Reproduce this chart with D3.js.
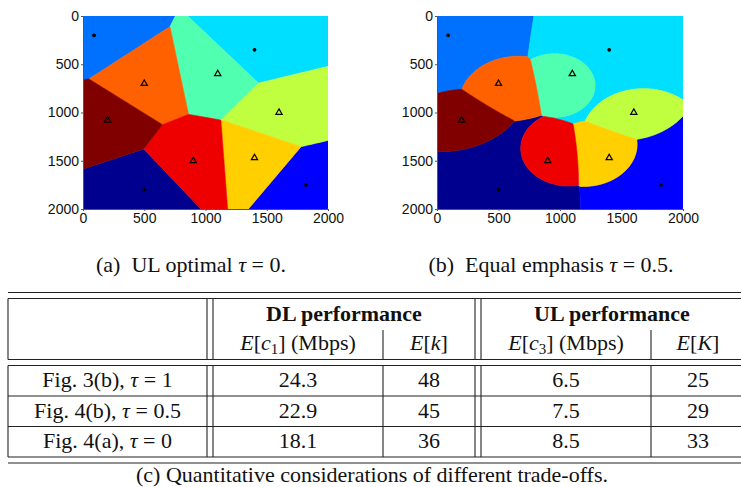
<!DOCTYPE html>
<html><head><meta charset="utf-8">
<script src="https://cdn.jsdelivr.net/npm/d3@7"></script>
<style>body{margin:0;background:#fff}svg{display:block}</style>
</head><body>
<svg id="c" width="741" height="487"></svg>
<script>
// ---------------- data ----------------
// base stations (x, y in metres): 4 macro (dots) then 6 small cells (triangles)
const bsX = [500, 1820, 90, 1400, 1100, 1600, 1400, 500, 900, 200];
const bsY = [1800, 1750, 200, 350, 600, 1000, 1470, 700, 1500, 1080];
const bsKind = ["macro", "macro", "macro", "macro", "small", "small", "small", "small", "small", "small"];
// association weights: (a) UL optimal tau = 0, (b) equal emphasis tau = 0.5
const weightUL = [1, 1, 1, 1, 1, 1, 1, 1, 1, 1];
const weightEq = [0.97, 0.97, 1.03, 1, 0.57, 0.53, 0.56, 0.55, 0.53, 0.58];
const axisTicks = [0, 500, 1000, 1500, 2000];
const captionLetters = ["(a)", "(b)"];
const captionTexts = ["UL optimal", "Equal emphasis"];
const captionTau = ["0", "0.5"];
// table
const rowFig = ["Fig. 3(b), ", "Fig. 4(b), ", "Fig. 4(a), "];
const rowTau = ["1", "0.5", "0"];
const dlRate = ["24.3", "22.9", "18.1"];
const dlK = ["48", "45", "36"];
const ulRate = ["6.5", "7.5", "8.5"];
const ulK = ["25", "29", "33"];
const tableCaption = "(c)  Quantitative considerations of different trade-offs.";

// jet colour per station
const palette = ["#00008f", "#0000ff", "#0070ff", "#00dfff", "#50ffaf", "#bfff40", "#ffcf00", "#ff6000", "#ef0000", "#800000"];

// ---------------- drawing ----------------
const svg = d3.select("#c");
const N = 250, STEP = 2000 / N;

function regionFields(weights) {
  const k = bsX.length;
  const costs = bsX.map(() => new Float64Array(N * N));
  for (let j = 0; j < N; j++) for (let i = 0; i < N; i++) {
    const px = (i + 0.5) * STEP, py = (j + 0.5) * STEP, idx = j * N + i;
    for (let s = 0; s < k; s++) costs[s][idx] = Math.hypot(px - bsX[s], py - bsY[s]) / weights[s];
  }
  const fields = bsX.map(() => new Float64Array(N * N));
  for (let idx = 0; idx < N * N; idx++) {
    let b1 = Infinity, b2 = Infinity, bi = -1;
    for (let s = 0; s < k; s++) {
      const c = costs[s][idx];
      if (c < b1) { b2 = b1; b1 = c; bi = s; } else if (c < b2) b2 = c;
    }
    for (let s = 0; s < k; s++) fields[s][idx] = (s === bi ? b2 : b1) - costs[s][idx];
  }
  return fields;
}

const panels = [
  { weights: weightUL, x0: 83, x1: 328, capX: 191 },
  { weights: weightEq, x0: 437, x1: 683, capX: 551 }
];
const PY0 = 16, PY1 = 209;

panels.forEach((p, pi) => {
  const xs = d3.scaleLinear().domain([0, 2000]).range([p.x0, p.x1]);
  const ys = d3.scaleLinear().domain([0, 2000]).range([PY0, PY1]);
  const g = svg.append("g");
  const clipId = "clip" + pi;
  svg.append("clipPath").attr("id", clipId).append("rect")
    .attr("x", p.x0).attr("y", PY0).attr("width", p.x1 - p.x0).attr("height", PY1 - PY0);
  const mapG = g.append("g").attr("clip-path", `url(#${clipId})`);
  const path = d3.geoPath(d3.geoTransform({
    point(x, y) { this.stream.point(xs(x * STEP), ys(y * STEP)); }
  }));
  const fields = regionFields(p.weights);
  const gen = d3.contours().size([N, N]);
  fields.forEach((f, s) => {
    const geom = gen.contour(f, 0);
    mapG.append("path").attr("d", path(geom))
      .attr("fill", palette[s]).attr("stroke", palette[s]).attr("stroke-width", 0.6);
  });
  // markers
  bsX.forEach((bx, s) => {
    if (bsKind[s] === "macro") {
      mapG.append("circle").attr("cx", xs(bx)).attr("cy", ys(bsY[s])).attr("r", 1.9).attr("fill", "#000");
    } else {
      mapG.append("path").attr("d", d3.symbol(d3.symbolTriangle, 17)())
        .attr("transform", `translate(${xs(bx)},${ys(bsY[s])})`)
        .attr("fill", "none").attr("stroke", "#000").attr("stroke-width", 1.2);
    }
  });
  // axes
  const ax = g.append("g").attr("transform", `translate(${p.x0},0)`)
    .call(d3.axisLeft(ys).tickValues(axisTicks).tickSizeInner(2).tickSizeOuter(0).tickPadding(2).tickFormat(d3.format("d")));
  const bx = g.append("g").attr("transform", `translate(0,${PY1})`)
    .call(d3.axisBottom(xs).tickValues(axisTicks).tickSizeInner(2).tickSizeOuter(0).tickPadding(2).tickFormat(d3.format("d")));
  [ax, bx].forEach(a => {
    a.select(".domain").attr("stroke", "#555");
    a.selectAll(".tick line").attr("stroke", "#555");
    a.selectAll("text").attr("font-family", "Liberation Sans, Arial, sans-serif").attr("font-size", 14).attr("fill", "#111");
  });
  // caption
  const cap = svg.append("text").attr("x", p.capX).attr("y", 272).attr("text-anchor", "middle")
    .attr("font-family", "Liberation Serif, Times New Roman, serif").attr("font-size", 22).attr("fill", "#111");
  cap.append("tspan").text(captionLetters[pi] + "\u2002" + captionTexts[pi] + " ");
  cap.append("tspan").attr("font-style", "italic").text("\u03c4");
  cap.append("tspan").text(" = " + captionTau[pi] + ".");
});

// ---------------- table ----------------
const T = svg.append("g");
const SER = "Liberation Serif, Times New Roman, serif";
function hline(y, x1 = 8, x2 = 741) {
  T.append("line").attr("x1", x1).attr("x2", x2).attr("y1", y).attr("y2", y)
    .attr("stroke", "#222").attr("stroke-width", 1.1);
}
function vline(x, y1, y2) {
  T.append("line").attr("x1", x).attr("x2", x).attr("y1", y1).attr("y2", y2)
    .attr("stroke", "#222").attr("stroke-width", 1.1);
}
[292.5, 298.5, 359.5, 365.5, 396, 426.5, 457, 463].forEach(y => hline(y));
[8, 207, 213, 475, 481].forEach(x => vline(x, 298.5, 359.5));
[383, 651].forEach(x => vline(x, 330, 359.5));
[8, 207, 213, 383, 475, 481, 651].forEach(x => vline(x, 365.5, 457));

function txt(x, y, opts = {}) {
  return T.append("text").attr("x", x).attr("y", y).attr("text-anchor", "middle")
    .attr("font-family", SER).attr("font-size", opts.size || 22).attr("fill", "#111")
    .attr("font-weight", opts.bold ? "bold" : null);
}
txt(344, 321, { bold: true }).text("DL performance");
txt(612, 321, { bold: true }).text("UL performance");

function expect(x, y, v, sub, tail) {
  const t = txt(x, y);
  t.append("tspan").attr("font-style", "italic").text("E");
  t.append("tspan").text("[");
  t.append("tspan").attr("font-style", "italic").text(v);
  if (sub) t.append("tspan").attr("font-size", 15).attr("dy", 4).text(sub);
  t.append("tspan").attr("dy", sub ? -4 : 0).text("]" + (tail || ""));
}
expect(298, 350, "c", "1", " (Mbps)");
expect(429, 350, "k");
expect(566, 350, "c", "3", " (Mbps)");
expect(698, 350, "K");

const rowBase = [387, 417.5, 447.5];
rowFig.forEach((f, r) => {
  const t = txt(107.5, rowBase[r]);
  t.append("tspan").text(f);
  t.append("tspan").attr("font-style", "italic").text("\u03c4");
  t.append("tspan").text(" = " + rowTau[r]);
  txt(298, rowBase[r]).text(dlRate[r]);
  txt(429, rowBase[r]).text(dlK[r]);
  txt(566, rowBase[r]).text(ulRate[r]);
  txt(698, rowBase[r]).text(ulK[r]);
});
txt(372, 482).text(tableCaption);
</script>
</body></html>
